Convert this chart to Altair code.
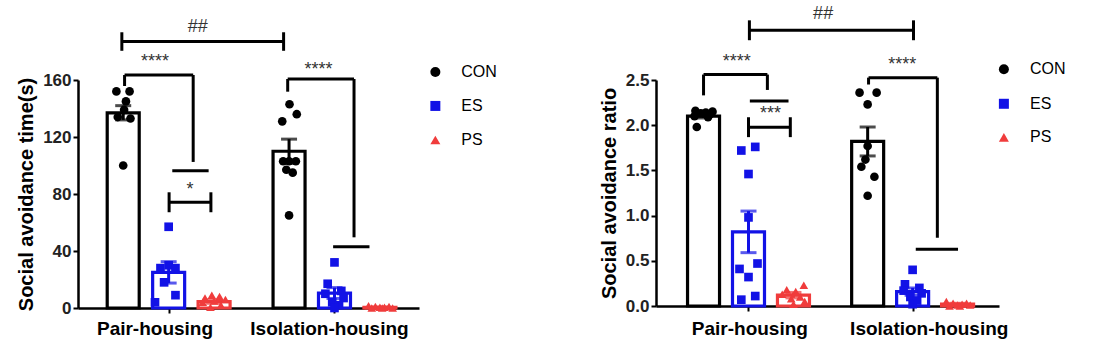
import altair as alt
import pandas as pd

FONT = "Liberation Sans"

GROUPS = ["CON", "ES", "PS"]
HOUSING = ["Pair-housing", "Isolation-housing"]
COLORS = ["#000000", "#1212e6", "#f03c3c"]
SHAPES = ["circle", "square", "triangle-up"]
SLOTS = [0.0, 1.0, 2.0, 3.65, 4.65, 5.65]   # bar slots: CON/ES/PS x pair, isolation

# ---------------- left panel: social avoidance time (s) ----------------
time_mean = [137.0, 25.0, 4.5, 110.0, 10.5, 0.5]
time_sem = [5.0, 7.5, 1.2, 8.5, 3.8, 0.2]
time_points = [
    [152, 152, 145, 139, 134, 133, 100],
    [57, 30, 28, 28, 18, 9, 4],
    [9, 8, 7, 6, 5, 4, 2, 0.5],
    [143, 136, 131, 103, 103, 103, 97, 95, 65],
    [32, 17, 12, 10, 7, 4, 2, 0],
    [1.5, 1, 1, 0.5, 0.5, 0, 0, 0],
]
time_jitter = [
    [-0.15, 0.14, 0.06, 0.02, -0.12, 0.16, 0.0],
    [0.0, 0.0, -0.18, 0.15, -0.1, 0.15, -0.3],
    [-0.05, 0.12, -0.2, 0.25, 0.0, -0.25, 0.15, -0.08],
    [0.01, 0.17, -0.15, -0.13, 0.0, 0.15, -0.06, 0.08, 0.0],
    [0.0, -0.15, 0.15, -0.2, 0.2, -0.05, 0.1, 0.0],
    [-0.25, 0.2, -0.1, 0.1, 0.0, 0.28, -0.18, 0.05],
]
# H brackets: (x1, x2, y, half-height)
time_hbr = [(-0.03, 3.53, 187.0, 6.5), (1.01, 1.93, 74.2, 7.0)]
# elbow brackets: (x_left, x_right, y_top, y_left_end, y_right_end)
time_elb = [(0.03, 1.54, 163.5, 155.8, 102.5), (3.62, 5.08, 160.7, 151.8, 49.6)]
# plain lines: (x1, x2, y)
time_lines = [(1.08, 1.88, 96.4), (4.62, 5.42, 43.0)]
time_marks = ["##", "****", "*", "****"]
time_mark_x = [1.64, 0.70, 1.47, 4.30]
time_mark_y = [199.3, 174.7, 84.9, 169.3]
time_label_x = [0.70, 4.54]
time_label_y = -14.7
time_leg_sym_x = 6.87
time_leg_txt_x = 7.44
time_leg_y = [165.6, 141.8, 117.9]

# ---------------- right panel: social avoidance ratio ----------------
ratio_mean = [2.10, 0.82, 0.12, 1.82, 0.16, 0.02]
ratio_sem = [0.02, 0.23, 0.03, 0.16, 0.04, 0.01]
ratio_points = [
    [2.16, 2.15, 2.14, 2.13, 2.12, 2.10, 2.09, 1.98],
    [1.76, 1.72, 1.46, 0.98, 0.47, 0.41, 0.32, 0.11, 0.07],
    [0.23, 0.18, 0.16, 0.13, 0.10, 0.08, 0.05, 0.02],
    [2.36, 2.36, 2.23, 1.77, 1.62, 1.54, 1.43, 1.22],
    [0.40, 0.24, 0.20, 0.17, 0.14, 0.10, 0.06, 0.02],
    [0.05, 0.03, 0.03, 0.02, 0.01, 0.01, 0.0, 0.0],
]
ratio_jitter = [
    [-0.18, 0.2, 0.05, -0.06, 0.14, -0.2, 0.1, -0.15],
    [0.15, -0.16, 0.0, 0.0, 0.2, -0.2, 0.0, 0.15, -0.16],
    [0.23, -0.15, 0.05, -0.25, 0.15, -0.05, 0.25, 0.0],
    [-0.18, 0.2, 0.0, 0.0, -0.05, -0.14, 0.15, 0.0],
    [0.0, -0.17, 0.15, -0.2, 0.2, -0.05, 0.1, 0.0],
    [-0.25, 0.2, -0.1, 0.1, 0.0, 0.28, -0.18, 0.05],
]
ratio_hbr = [(1.02, 4.67, 3.05, 0.11), (1.0, 1.93, 1.978, 0.11)]
ratio_elb = [(0.0, 1.42, 2.56, 2.33, 2.39), (3.67, 5.2, 2.526, 2.45, 0.755)]
ratio_lines = [(1.03, 1.89, 2.267), (4.72, 5.66, 0.629)]
ratio_marks = ["##", "****", "***", "****"]
ratio_mark_x = [2.66, 0.74, 1.49, 4.42]
ratio_mark_y = [3.26, 2.73, 2.156, 2.70]
ratio_label_x = [1.03, 5.02]
ratio_label_y = -0.252
ratio_leg_sym_x = 6.68
ratio_leg_txt_x = 7.26
ratio_leg_y = [2.618, 2.237, 1.866]


def panel(mean, sem, points, jitter, hbr, elb, lines, marks, mark_x, mark_y,
          label_x, label_y, leg_sym_x, leg_txt_x, leg_y,
          x_dom, y_dom, y_ticks, y_fmt, y_title, w, h):
    bar_df = pd.DataFrame({
        "x": SLOTS,
        "mean": mean,
        "lo": [m - s for m, s in zip(mean, sem)],
        "hi": [m + s for m, s in zip(mean, sem)],
        "group": GROUPS * 2,
    })
    rows = []
    for i, (vals, jit) in enumerate(zip(points, jitter)):
        for v, j in zip(vals, jit):
            rows.append({"x": SLOTS[i] + j, "v": v, "group": GROUPS[i % 3]})
    pt_df = pd.DataFrame(rows)
    leg_df = pd.DataFrame({"x": [leg_sym_x] * 3, "tx": [leg_txt_x] * 3,
                           "v": leg_y, "group": GROUPS})

    segs = []
    for x1, x2, y, hh in hbr:
        segs += [(x1, x2, y, y), (x1, x1, y - hh, y + hh), (x2, x2, y - hh, y + hh)]
    for xl, xr, yt, yl, yr in elb:
        segs += [(xl, xr, yt, yt), (xl, xl, yl, yt), (xr, xr, yr, yt)]
    for x1, x2, y in lines:
        segs += [(x1, x2, y, y)]
    seg_df = pd.DataFrame(segs, columns=["x", "x2", "y", "y2"])

    txt_df = pd.DataFrame({"x": mark_x, "y": mark_y, "t": marks})
    lab_df = pd.DataFrame({"x": label_x, "y": [label_y] * 2, "t": HOUSING})

    xs = alt.Scale(domain=x_dom, nice=False, zero=False)
    ys = alt.Scale(domain=y_dom, nice=False, zero=False)
    cs = alt.Scale(domain=GROUPS, range=COLORS)
    ss = alt.Scale(domain=GROUPS, range=SHAPES)

    x_axis = alt.Axis(values=[SLOTS[1], SLOTS[4]], labels=False, title=None,
                      grid=False, tickSize=5, tickWidth=2, tickColor="black",
                      domainColor="black", domainWidth=2.5)
    y_axis = alt.Axis(values=y_ticks, format=y_fmt, title=y_title, grid=False,
                      tickSize=5, tickWidth=2, tickColor="black",
                      domainColor="black", domainWidth=2.5,
                      labelFont=FONT, labelFontSize=17, labelFontWeight="bold",
                      labelColor="#222222", labelPadding=2,
                      titleFont=FONT, titleFontSize=20, titleFontWeight="bold",
                      titleColor="black", titlePadding=6)

    X = alt.X("x:Q", scale=xs, axis=x_axis)
    C = alt.Color("group:N", scale=cs, legend=None)

    bars = alt.Chart(bar_df).mark_bar(size=32, fill="white", strokeWidth=3.2,
                                      orient="vertical").encode(
        x=X,
        y=alt.Y("mean:Q", scale=ys, axis=y_axis, stack=None),
        stroke=alt.Stroke("group:N", scale=cs, legend=None),
    )
    err = alt.Chart(bar_df).mark_rule(strokeWidth=3).encode(
        x=X, y=alt.Y("lo:Q", scale=ys), y2="hi:Q", color=C,
    )
    cap_hi = alt.Chart(bar_df).mark_tick(orient="horizontal", size=16,
                                         thickness=3).encode(
        x=X, y=alt.Y("hi:Q", scale=ys), color=C,
    )
    cap_lo = alt.Chart(bar_df).mark_tick(orient="horizontal", size=16,
                                         thickness=3).encode(
        x=X, y=alt.Y("lo:Q", scale=ys), color=C,
    )
    pts = alt.Chart(pt_df).mark_point(filled=True, size=75, opacity=1).encode(
        x=X, y=alt.Y("v:Q", scale=ys), color=C,
        shape=alt.Shape("group:N", scale=ss, legend=None),
    )
    leg_sym = alt.Chart(leg_df).mark_point(filled=True, size=100, opacity=1).encode(
        x=X, y=alt.Y("v:Q", scale=ys), color=C,
        shape=alt.Shape("group:N", scale=ss, legend=None),
    )
    leg_txt = alt.Chart(leg_df).mark_text(font=FONT, fontSize=16, color="black",
                                          align="left", baseline="middle").encode(
        x=alt.X("tx:Q", scale=xs, axis=x_axis), y=alt.Y("v:Q", scale=ys),
        text="group:N",
    )
    segs_l = alt.Chart(seg_df).mark_rule(color="black", strokeWidth=3).encode(
        x=X, x2="x2:Q", y=alt.Y("y:Q", scale=ys), y2="y2:Q",
    )
    txt = alt.Chart(txt_df).mark_text(font=FONT, fontSize=18, color="#333333",
                                      baseline="alphabetic", dy=8).encode(
        x=X, y=alt.Y("y:Q", scale=ys), text="t:N",
    )
    labs = alt.Chart(lab_df).mark_text(font=FONT, fontSize=19, fontWeight="bold",
                                       color="black", baseline="middle").encode(
        x=X, y=alt.Y("y:Q", scale=ys), text="t:N",
    )
    return alt.layer(bars, err, cap_hi, cap_lo, pts, segs_l, txt, labs,
                     leg_sym, leg_txt).properties(width=w, height=h)


left = panel(time_mean, time_sem, time_points, time_jitter, time_hbr, time_elb,
             time_lines, time_marks, time_mark_x, time_mark_y, time_label_x,
             time_label_y, time_leg_sym_x, time_leg_txt_x, time_leg_y,
             [-0.885, 6.40], [0, 160], [0, 40, 80, 120, 160], "d",
             "Social avoidance time(s)", 341, 228)
right = panel(ratio_mean, ratio_sem, ratio_points, ratio_jitter, ratio_hbr,
              ratio_elb, ratio_lines, ratio_marks, ratio_mark_x, ratio_mark_y,
              ratio_label_x, ratio_label_y, ratio_leg_sym_x, ratio_leg_txt_x,
              ratio_leg_y, [-0.946, 6.46], [0, 2.5],
              [0, 0.5, 1.0, 1.5, 2.0, 2.5], ".1f", "Social avoidance ratio",
              343, 226)

chart = alt.hconcat(left, right, spacing=237, bounds="flush").resolve_scale(
    color="independent", shape="independent", x="independent", y="independent"
).properties(padding={"left": 16, "top": 5, "right": 5, "bottom": 5}
).configure(background="white").configure_view(stroke=None)

chart.save("out.html", embed_options={"renderer": "svg", "actions": False})
